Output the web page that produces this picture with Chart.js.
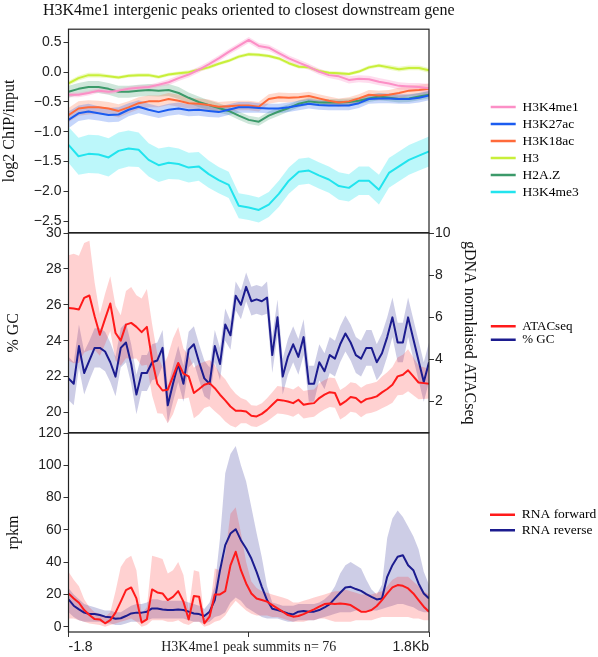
<!DOCTYPE html>
<html>
<head>
<meta charset="utf-8">
<script src="https://cdn.jsdelivr.net/npm/chart.js@4.4.1/dist/chart.umd.min.js"></script>
<style>
body { margin: 0; background: #fff; }
canvas { position: absolute; left: 0; }
</style>
</head>
<body>
<canvas id="c1" width="598" height="243" style="top:0px"></canvas>
<canvas id="c2" width="598" height="230" style="top:213px"></canvas>
<canvas id="c3" width="598" height="244" style="top:413px"></canvas>
<script>
// ---- axis ticks ----
const xTickValues = [-1.8, 0, 1.8];
const xTickLabels = ['-1.8', 'H3K4me1 peak summits n= 76', '1.8Kb'];
const chipTicks = [0.5, 0, -0.5, -1, -1.5, -2, -2.5];
const gcTicks = [20, 22, 24, 26, 28, 30];
const atacTicks = [2, 4, 6, 8, 10];
const rpkmTicks = [0, 20, 40, 60, 80, 100, 120];

// ---- panel 1: log2 ChIP/input, 37 bins (-1.8 .. 1.8 kb) ----
const h3k4me1 = [-0.38,-0.38,-0.35,-0.31,-0.33,-0.31,-0.28,-0.26,-0.25,-0.21,-0.17,-0.10,-0.04,0.04,0.13,0.23,0.34,0.44,0.54,
  0.44,0.41,0.32,0.23,0.16,0.09,0.01,-0.05,-0.07,-0.13,-0.11,-0.12,-0.16,-0.19,-0.23,-0.24,-0.25,-0.27];
const h3k27ac = [-0.80,-0.69,-0.66,-0.69,-0.72,-0.71,-0.63,-0.58,-0.63,-0.67,-0.63,-0.61,-0.64,-0.63,-0.65,-0.67,-0.63,-0.59,-0.59,
  -0.60,-0.61,-0.61,-0.59,-0.56,-0.53,-0.55,-0.56,-0.56,-0.56,-0.52,-0.45,-0.44,-0.44,-0.45,-0.45,-0.43,-0.39];
const h3k18ac = [-0.72,-0.61,-0.59,-0.59,-0.61,-0.65,-0.59,-0.52,-0.49,-0.49,-0.45,-0.48,-0.52,-0.53,-0.55,-0.58,-0.57,-0.56,-0.56,
  -0.58,-0.45,-0.42,-0.43,-0.42,-0.40,-0.44,-0.48,-0.51,-0.49,-0.44,-0.38,-0.39,-0.38,-0.35,-0.31,-0.30,-0.28];
const h3 = [-0.19,-0.10,-0.05,-0.05,-0.07,-0.09,-0.06,-0.05,-0.05,-0.08,-0.04,-0.02,0.00,0.04,0.08,0.14,0.19,0.26,0.30,
  0.29,0.27,0.23,0.15,0.09,0.08,0.02,-0.01,-0.02,-0.03,0.01,0.08,0.11,0.08,0.05,0.07,0.07,0.03];
const h2az = [-0.33,-0.28,-0.25,-0.25,-0.28,-0.33,-0.33,-0.31,-0.30,-0.31,-0.30,-0.35,-0.43,-0.50,-0.55,-0.60,-0.65,-0.73,-0.80,
  -0.83,-0.73,-0.66,-0.60,-0.53,-0.49,-0.51,-0.51,-0.51,-0.50,-0.48,-0.44,-0.41,-0.43,-0.45,-0.44,-0.41,-0.38];
const h3k4me3 = [-1.22,-1.41,-1.37,-1.38,-1.43,-1.32,-1.28,-1.30,-1.47,-1.56,-1.52,-1.54,-1.60,-1.58,-1.71,-1.81,-1.89,-2.24,-2.27,
  -2.31,-2.22,-2.04,-1.82,-1.67,-1.65,-1.73,-1.80,-1.91,-1.94,-1.82,-1.82,-1.97,-1.69,-1.58,-1.47,-1.40,-1.33];

// half widths of the shaded bands
const h3k4me1Err = [0.04,0.04,0.04,0.04,0.04,0.04,0.04,0.04,0.04,0.04,0.05,0.05,0.05,0.05,0.05,0.05,0.05,0.05,0.05,
  0.05,0.05,0.05,0.05,0.05,0.05,0.05,0.05,0.06,0.06,0.06,0.06,0.06,0.06,0.06,0.06,0.07,0.07];
const h3k27acErr = [0.14,0.13,0.13,0.12,0.12,0.12,0.11,0.11,0.10,0.10,0.10,0.10,0.10,0.10,0.10,0.09,0.09,0.09,0.09,
  0.08,0.08,0.08,0.08,0.08,0.08,0.08,0.08,0.08,0.08,0.08,0.08,0.08,0.08,0.08,0.08,0.08,0.08];
const h3k18acErr = [0.12,0.12,0.12,0.11,0.11,0.11,0.10,0.10,0.10,0.10,0.10,0.10,0.09,0.09,0.09,0.08,0.08,0.08,0.08,
  0.08,0.08,0.08,0.08,0.07,0.07,0.07,0.07,0.07,0.07,0.07,0.08,0.08,0.08,0.09,0.09,0.09,0.09];
const h3Err = [0.04,0.04,0.04,0.04,0.03,0.03,0.03,0.03,0.03,0.03,0.03,0.03,0.03,0.03,0.03,0.03,0.03,0.03,0.03,
  0.03,0.03,0.03,0.03,0.03,0.03,0.03,0.03,0.03,0.03,0.03,0.03,0.03,0.04,0.04,0.04,0.04,0.04];
const h2azErr = [0.10,0.10,0.10,0.10,0.10,0.10,0.10,0.10,0.10,0.10,0.10,0.10,0.09,0.09,0.08,0.08,0.07,0.07,0.07,
  0.07,0.07,0.07,0.06,0.06,0.06,0.06,0.06,0.06,0.06,0.06,0.06,0.06,0.06,0.06,0.06,0.06,0.06];
const h3k4me3Err = [0.30,0.31,0.32,0.32,0.32,0.31,0.30,0.29,0.28,0.28,0.27,0.26,0.25,0.24,0.23,0.22,0.22,0.21,0.21,
  0.21,0.21,0.22,0.22,0.22,0.22,0.22,0.22,0.23,0.23,0.24,0.24,0.25,0.25,0.25,0.25,0.25,0.25];

// ---- panel 2: % GC (left) and ATACseq (right), 70 bins ----
const gc = [21.9,21.6,23.7,22.2,22.9,23.6,23.6,23.4,22.8,22.0,
  23.6,23.9,22.7,21.0,22.2,22.2,22.8,22.9,23.6,20.4,
  21.6,22.7,21.6,23.5,23.8,22.8,21.9,21.6,23.7,22.7,
  24.9,24.3,26.5,26.0,27.0,26.2,26.3,26.2,26.4,23.2,
  25.3,22.0,23.1,23.8,23.1,24.2,21.6,21.6,22.8,22.3,
  23.2,23.0,23.8,24.4,23.9,23.2,23.0,23.6,23.6,22.8,
  23.3,24.2,25.3,23.9,23.9,25.3,24.1,22.9,21.7,22.8];
const gcErr = [1.2,1.2,1.2,1.2,1.1,1.1,1.1,1.1,1.1,1.1,
  1.1,1.1,1.1,1.1,1.0,1.0,1.0,1.0,1.0,1.0,
  1.0,1.0,1.0,1.0,1.0,1.0,1.0,0.9,0.9,0.9,
  0.9,0.8,0.8,0.8,0.8,0.8,0.8,0.8,0.9,1.0,
  1.0,1.0,1.0,1.0,1.0,1.0,1.0,1.0,1.0,1.0,
  1.0,1.0,1.0,1.0,1.0,1.0,1.0,1.0,1.0,1.0,
  1.1,1.1,1.1,1.1,1.1,1.1,1.1,1.1,1.1,1.1];
const atac = [6.44,6.41,6.37,6.92,7.03,6.05,5.17,5.92,6.65,5.25,
  4.89,5.65,5.73,5.54,5.29,5.54,3.98,2.84,2.52,2.56,
  3.19,3.83,3.32,3.19,2.40,2.59,2.79,2.87,2.63,2.32,
  2.05,1.76,1.56,1.56,1.52,1.32,1.29,1.41,1.60,1.84,
  2.08,2.05,2.00,1.92,2.08,1.84,1.89,1.92,2.16,2.32,
  2.44,2.40,1.84,2.00,2.21,2.16,1.95,2.11,2.16,2.24,
  2.43,2.59,2.79,3.19,3.27,3.48,3.19,2.90,2.87,2.84];
const atacErr = [2.5,2.6,2.55,2.6,2.6,1.6,1.0,1.2,1.3,1.3,
  1.2,1.6,1.7,1.5,1.6,1.8,1.7,1.4,1.1,1.6,
  1.8,1.7,1.2,1.0,1.2,1.2,1.1,1.1,1.1,1.0,
  1.0,0.9,0.8,0.6,0.55,0.5,0.5,0.5,0.55,0.6,
  0.65,0.65,0.65,0.65,0.65,0.65,0.65,0.65,0.7,0.7,
  0.7,0.7,0.7,0.7,0.7,0.7,0.7,0.7,0.7,0.7,
  0.75,0.8,0.85,0.9,0.95,1.0,0.9,0.8,0.75,0.7];

// ---- panel 3: rpkm, 70 bins ----
const rnaFwd = [20.6,17.5,14.8,10.3,7.2,4.7,4.5,2.1,4.1,8.7,
  15.5,22.7,24.3,17.5,2.5,4.5,23.1,21.2,20.6,16.5,
  18.5,22.0,15.5,4.5,19.0,18.5,2.1,6.2,20.0,20.0,
  22.0,38.0,46.4,35.0,26.8,20.6,17.5,16.5,15.5,13.4,
  11.3,9.3,7.2,6.2,6.6,7.8,9.3,10.7,12.4,14.0,
  14.4,14.0,14.4,14.0,13.4,11.3,9.3,9.3,10.3,12.8,
  16.5,20.6,24.3,25.8,25.3,23.7,20.6,16.5,12.4,9.3];
const rnaFwdLo = [5,5,4,3,2,1.5,1,0,1,2,
  3,4,5,3,0,1,4,4,4,3,
  3,4,2,1,3,3,0,1,3,4,
  7,12,16,13,10,8,7,7,7,6,
  6,5,4,3,3,3,4,4,5,5,
  4,3,3,3,3,4,4,4,4,5,
  6,6,6,6,6,6,5,5,4,4];
const rnaFwdHi = [34,29,25,17,12,9,8,6,9,22,
  37,42,44,35,8,12,44,43,42,33,
  35,40,32,10,35,34,5,10,36,35,
  45,70,74,58,40,28,24,22,21,20,
  19,18,17,15,15,16,17,18,19,20,
  21,22,22,23,22,21,20,20,20,21,
  22,25,29,31,31,31,28,25,22,20];
const rnaRev = [16.9,13.0,10.7,8.7,7.8,7.8,7.2,6.2,5.8,4.9,
  5.2,6.6,8.2,8.7,8.7,9.3,11.3,11.3,10.7,10.3,
  10.3,10.7,10.3,9.3,8.2,7.8,6.6,9.3,16.5,35.0,
  50.5,57.7,60.4,53.6,48.4,42.2,34.0,24.7,16.5,11.1,
  10.3,9.3,8.2,7.6,9.3,9.7,9.3,9.3,10.3,11.9,
  14.0,17.5,21.0,24.3,24.7,23.3,22.2,20.2,18.5,16.9,
  17.5,30.9,38.1,43.3,44.3,38.1,35.0,26.8,20.6,17.5];
const rnaRevLo = [9,6,4,3,3,3,3,2,2,1,
  1,2,3,3,3,4,5,5,5,5,
  5,5,5,4,3,3,2,3,6,7,
  9,15,18,16,12,10,8,6,5,5,
  5,4,3,3,4,4,4,4,5,6,
  7,8,9,9,9,10,10,10,10,10,
  11,12,13,14,14,13,12,10,9,9];
const rnaRevHi = [24,20,17,14,13,12,11,10,10,9,
  9,11,13,14,14,15,17,17,16,16,
  16,16,16,15,14,13,11,15,25,55,
  95,107,112,100,90,74,58,43,25,15,
  14,13,13,13,14,14,14,14,15,17,
  20,25,33,38,40,38,36,29,23,20,
  26,55,67,72,68,62,56,48,34,26];

const SERIF = '"Liberation Serif", "Times New Roman", serif';
const SANS = '"Liberation Sans", Arial, sans-serif';
const CANVAS_W = 598, PLOT_RIGHT = 429;

function binsX(n) {
	let xs = [];
	for (let i = 0; i < n; i++) xs.push(-1.8 + 3.6 * i / (n - 1));
	return xs;
}

function rgba(hex, a) {
	let n = parseInt(hex.slice(1), 16);
	return 'rgba(' + (n >> 16) + ',' + ((n >> 8) & 255) + ',' + (n & 255) + ',' + a + ')';
}

function pts(xs, ys) {
	return xs.map((x, i) => ({x: x, y: ys[i]}));
}

function line(label, xs, ys, color, axis) {
	return {label: label, data: pts(xs, ys), borderColor: color, backgroundColor: color,
		borderWidth: 2, pointRadius: 0, fill: false, order: 0, yAxisID: axis, borderJoinStyle: 'round'};
}

// returns the upper edge (filled down to the next dataset) and the lower edge
function band(xs, lo, hi, color, alpha, axis) {
	let base = {band: true, borderWidth: 0, borderColor: 'rgba(0,0,0,0)', pointRadius: 0, order: 1, yAxisID: axis};
	return [
		Object.assign({}, base, {data: pts(xs, hi), fill: '+1', backgroundColor: rgba(color, alpha)}),
		Object.assign({}, base, {data: pts(xs, lo), fill: false})
	];
}

function yAxis(o) {
	return {
		position: o.position || 'left',
		min: o.min, max: o.max,
		afterFit: (s) => { s.width = o.width; },
		afterBuildTicks: (s) => { s.ticks = o.ticks.map(v => ({value: v})); },
		ticks: {font: {family: SANS, size: 14}, color: '#222', padding: o.tickPad, autoSkip: false,
			callback: o.format || ((v) => String(v))},
		grid: {drawOnChartArea: false, tickLength: 5, color: '#333', lineWidth: 1},
		border: {display: false},
		title: {display: true, text: o.title, color: '#111', font: {family: SERIF, size: 16},
			padding: {top: o.titlePad, bottom: 0}}
	};
}

function spacer(width) {
	return {position: 'right', display: true, afterFit: (s) => { s.width = width; },
		ticks: {display: false}, grid: {display: false}, border: {display: false}};
}

function hiddenX() {
	return {type: 'linear', min: -1.8, max: 1.8, display: false};
}

function legendOpts(size, pad, maxW) {
	return {
		display: true, position: 'right', maxWidth: maxW,
		labels: {
			usePointStyle: true, pointStyleWidth: 25, padding: pad, color: '#222',
			font: {family: SERIF, size: size},
			generateLabels: (chart) => {
				let items = [];
				chart.data.datasets.forEach((ds, i) => {
					if (ds.band) return;
					items.push({text: ds.label, strokeStyle: ds.borderColor, fillStyle: ds.borderColor,
						lineWidth: 2.5, pointStyle: 'line', hidden: false, datasetIndex: i});
				});
				return items;
			}
		}
	};
}

// black box round the plot area
const frame = {
	id: 'frame',
	afterDatasetsDraw(chart) {
		let a = chart.chartArea, ctx = chart.ctx;
		ctx.save();
		ctx.strokeStyle = '#222';
		ctx.lineWidth = 1.2;
		ctx.strokeRect(a.left, a.top, a.right - a.left, a.bottom - a.top);
		ctx.restore();
	}
};

// put the legend block at a fixed place, wide enough for its text
const legendPlace = {
	id: 'legendPlace',
	afterLayout(chart, args, opts) {
		let lg = chart.legend;
		if (!lg) return;
		lg.left = opts.x;
		lg.right = CANVAS_W;
		lg.width = lg.right - lg.left;
		lg.top += opts.dy || 0;
		lg.bottom += opts.dy || 0;
	}
};

Chart.defaults.animation = false;
Chart.defaults.events = [];

// ---------- panel 1 ----------
let x1 = binsX(h3k4me1.length);
let chipNames = ['H3K4me1', 'H3K27ac', 'H3K18ac', 'H3', 'H2A.Z', 'H3K4me3'];
let chipVals = [h3k4me1, h3k27ac, h3k18ac, h3, h2az, h3k4me3];
let chipErrs = [h3k4me1Err, h3k27acErr, h3k18acErr, h3Err, h2azErr, h3k4me3Err];
let chipColors = ['#fc8fc6', '#1b5cf0', '#ff6a3a', '#c8ef3a', '#3c9a6a', '#22e4ee'];
let chipAlpha = [0.3, 0.25, 0.25, 0.3, 0.25, 0.3];
let ds1 = [];
for (let k = 0; k < chipNames.length; k++) {
	ds1.push(line(chipNames[k], x1, chipVals[k], chipColors[k], 'y'));
}
for (let k = 0; k < chipNames.length; k++) {
	let lo = chipVals[k].map((v, i) => v - chipErrs[k][i]);
	let hi = chipVals[k].map((v, i) => v + chipErrs[k][i]);
	ds1 = ds1.concat(band(x1, lo, hi, chipColors[k], chipAlpha[k], 'y'));
}
// right padding 100.5 keeps the full-width title centred over the plot
new Chart(document.getElementById('c1'), {
	type: 'line',
	data: {datasets: ds1},
	plugins: [frame, legendPlace],
	options: {
		responsive: false,
		layout: {padding: {top: 0, bottom: 10, left: 0, right: 100.5}},
		scales: {
			x: hiddenX(),
			y: yAxis({min: -2.69, max: 0.72, width: 68.5, ticks: chipTicks, tickPad: 2, titlePad: 0,
				title: 'log2 ChIP/input',
				format: (v) => (v < 0 ? '\u2212' : '') + Math.abs(v).toFixed(1)}),
			pad: spacer(CANVAS_W - 100.5 - 60 - PLOT_RIGHT)
		},
		plugins: {
			legend: legendOpts(13.5, 3.5, 60),
			legendPlace: {x: 487.2, dy: 33},
			tooltip: {enabled: false},
			title: {display: true, text: 'H3K4me1 intergenic peaks oriented to closest downstream gene',
				color: '#111', font: {family: SERIF, size: 16, weight: 'normal'}, padding: {top: 1, bottom: 9}}
		}
	}
});

// ---------- panel 2 ----------
let x2 = binsX(gc.length);
let ds2 = [
	line('ATACseq', x2, atac, '#ff1a1a', 'yAtac'),
	line('% GC', x2, gc, '#1c1c8f', 'yGc')
];
ds2 = ds2.concat(band(x2, atac.map((v, i) => v - atacErr[i]), atac.map((v, i) => v + atacErr[i]), '#ff1a1a', 0.2, 'yAtac'));
ds2 = ds2.concat(band(x2, gc.map((v, i) => v - gcErr[i]), gc.map((v, i) => v + gcErr[i]), '#1c1c8f', 0.22, 'yGc'));
let left2 = 490.4;
new Chart(document.getElementById('c2'), {
	type: 'line',
	data: {datasets: ds2},
	plugins: [frame, legendPlace],
	options: {
		responsive: false,
		layout: {padding: {top: 20, bottom: 10, left: 0, right: CANVAS_W - 90 - left2}},
		scales: {
			x: hiddenX(),
			yGc: yAxis({min: 18.88, max: 30, width: 68.5, ticks: gcTicks, tickPad: 2, titlePad: 4, title: '% GC'}),
			yAtac: yAxis({position: 'right', min: 0.52, max: 10, width: left2 - PLOT_RIGHT, ticks: atacTicks,
				tickPad: 1, titlePad: 12, title: 'gDNA normlaised ATACseq'})
		},
		plugins: {
			legend: legendOpts(13, 0.3, 90),
			legendPlace: {x: left2, dy: 0},
			tooltip: {enabled: false}
		}
	}
});

// ---------- panel 3 ----------
let x3 = binsX(rnaFwd.length);
let ds3 = [
	line('RNA forward', x3, rnaFwd, '#ff1a1a', 'y'),
	line('RNA reverse', x3, rnaRev, '#1c1c8f', 'y')
];
ds3 = ds3.concat(band(x3, rnaFwdLo, rnaFwdHi, '#ff1a1a', 0.2, 'y'));
ds3 = ds3.concat(band(x3, rnaRevLo, rnaRevHi, '#1c1c8f', 0.22, 'y'));
let left3 = 487.8;
new Chart(document.getElementById('c3'), {
	type: 'line',
	data: {datasets: ds3},
	plugins: [frame, legendPlace],
	options: {
		responsive: false,
		layout: {padding: {top: 20, bottom: 3, left: 0, right: CANVAS_W - 90 - left3}},
		scales: {
			x: {
				type: 'linear', min: -1.8, max: 1.8,
				afterBuildTicks: (s) => { s.ticks = xTickValues.map(v => ({value: v})); },
				afterFit: (s) => { s.height = 22; },
				ticks: {
					autoSkip: false, maxRotation: 0, align: 'inner', padding: 2, color: '#222',
					font: (ctx) => ctx.index === 1 ? {family: SERIF, size: 14} : {family: SANS, size: 14},
					callback: (v, i) => xTickLabels[i]
				},
				grid: {drawOnChartArea: false, tickLength: 5, color: '#333', lineWidth: 1},
				border: {display: false}
			},
			y: yAxis({min: -3.3, max: 120, width: 68.5, ticks: rpkmTicks, tickPad: 2, titlePad: 4, title: 'rpkm'}),
			pad: spacer(left3 - PLOT_RIGHT)
		},
		plugins: {
			legend: legendOpts(13.5, 2.2, 90),
			legendPlace: {x: left3, dy: -21},
			tooltip: {enabled: false}
		}
	}
});
</script>
</body>
</html>
